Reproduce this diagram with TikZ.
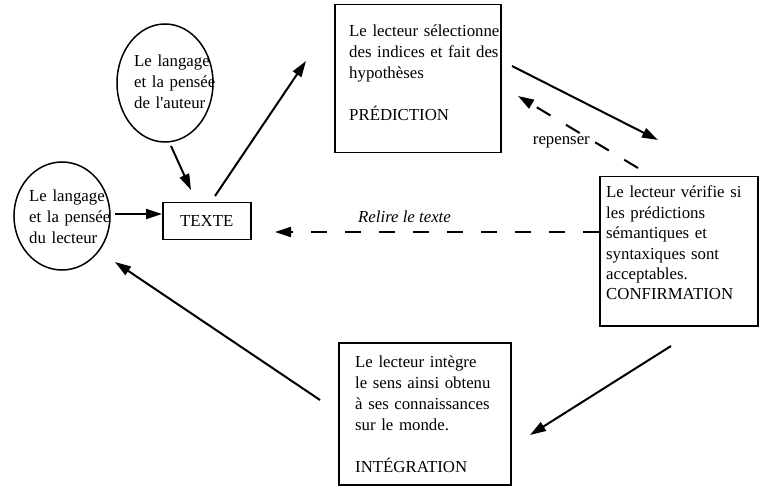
\documentclass[tikz,border=0pt]{standalone}
\usepackage{fontspec}
\setmainfont{Liberation Serif}
\usetikzlibrary{arrows.meta,shapes.geometric}
\begin{document}
\begin{tikzpicture}[x=1pt,y=-1pt,
  txt/.style={inner sep=0pt, anchor=base west, align=left, text width=#1, font=\fontsize{16.8}{21}\selectfont},
  boxst/.style={draw, line width=1.5pt, inner sep=0pt, anchor=north west},
  ell/.style={draw, ellipse, line width=1.5pt, inner sep=0pt},
  arr/.style={line width=2pt, -{Triangle[length=16pt,width=10pt]}},
  darr/.style={arr, dash pattern=on 16pt off 18pt},
  lbl/.style={inner sep=0pt, font=\fontsize{16.8}{21}\selectfont},
]
\useasboundingbox[fill=white] (0,0) rectangle (760,486);

% ellipses
\node[ell, minimum width=96pt, minimum height=118pt] (auteur) at (165,83) {};
\node[txt=90pt] (auteurtxt) at (134,67) {Le langage\\et la pensée\\de l\textquotesingle auteur};
\node[ell, minimum width=96pt, minimum height=108pt] (lecteur) at (62,216) {};
\node[txt=90pt] (lecteurtxt) at (29,202) {Le langage\\et la pensée\\du lecteur};

% boxes
\node[boxst, minimum width=88pt, minimum height=37pt] (texte) at (162,202) {};
\node[lbl] (textetxt) at (texte.center) {TEXTE};

\node[boxst, minimum width=166pt, minimum height=148pt] (pred) at (334,4) {};
\node[txt=160pt] (predtxt) at (349,37) {Le lecteur sélectionne\\des indices et fait des\\hypothèses\\[21pt]PRÉDICTION};

\node[boxst, minimum width=158pt, minimum height=149pt] (conf) at (599,176) {};
\node[txt=150pt, font=\fontsize{16.8}{20.4}\selectfont] (conftxt) at (606,198) {Le lecteur vérifie si\\les prédictions\\sémantiques et\\syntaxiques sont\\acceptables.\\CONFIRMATION};

\node[boxst, minimum width=172pt, minimum height=142pt] (integ) at (338,342) {};
\node[txt=160pt] (integtxt) at (355,367) {Le lecteur intègre\\le sens ainsi obtenu\\à ses connaissances\\sur le monde.\\[21pt]INTÉGRATION};

% labels
\node[lbl, anchor=base east] (repenser) at (590,145) {repenser};
\node[lbl, anchor=base west, font=\fontsize{16.8}{21}\selectfont\itshape] (relire) at (358,223) {Relire le texte};

% connector ends
\coordinate (a1s) at (171,146); \coordinate (a1e) at (191,190);
\coordinate (a2s) at (115,214); \coordinate (a2e) at (texte.west |- a2s);
\coordinate (a3s) at (215,196); \coordinate (a3e) at (306,61);
\coordinate (a4s) at (512,66);  \coordinate (a4e) at (658,140);
\coordinate (a5s) at (638,168); \coordinate (a5e) at (518,96);
\coordinate (a6s) at (conf.west |- 0,232); \coordinate (a6e) at (275,232);
\coordinate (a7s) at (671,346); \coordinate (a7e) at (530,435);
\coordinate (a8s) at (320,400); \coordinate (a8e) at (115,262);

\draw[arr] (a1s) -- (a1e);
\draw[arr] (a2s) -- (a2e);
\draw[arr] (a3s) -- (a3e);
\draw[arr] (a4s) -- (a4e);
\draw[darr] (a5s) -- (a5e);
\draw[darr] (a6s) -- (a6e);
\draw[arr] (a7s) -- (a7e);
\draw[arr] (a8s) -- (a8e);
\end{tikzpicture}
\end{document}
